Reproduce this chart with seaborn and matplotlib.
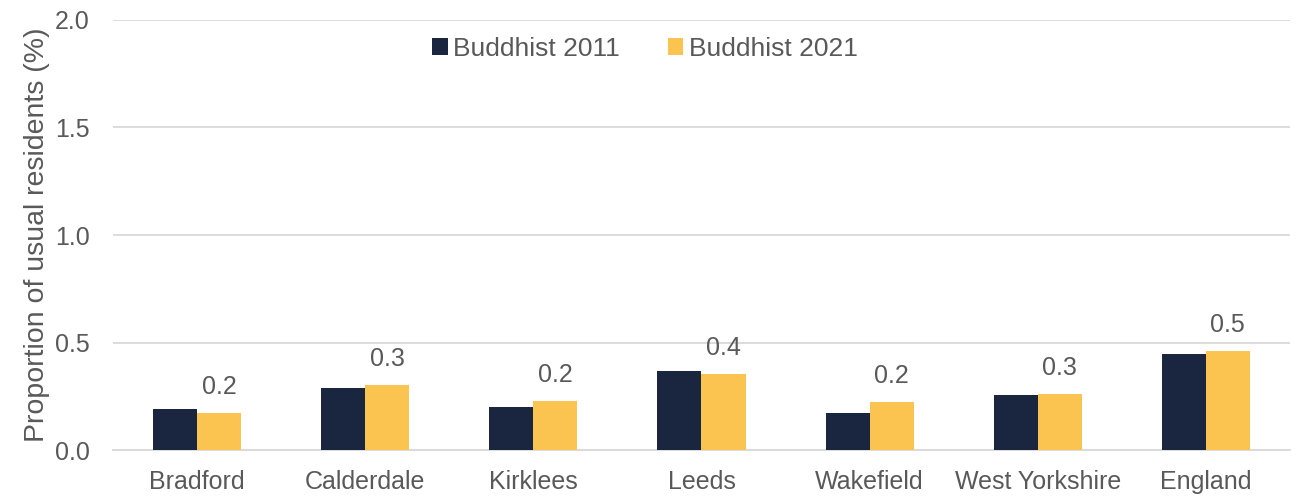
import matplotlib.pyplot as plt
import pandas as pd
import seaborn as sns

areas = ['Bradford', 'Calderdale', 'Kirklees', 'Leeds', 'Wakefield',
         'West Yorkshire', 'England']
buddhist_2011 = [0.19, 0.29, 0.20, 0.368, 0.173, 0.257, 0.449]
buddhist_2021 = [0.174, 0.304, 0.229, 0.355, 0.223, 0.262, 0.463]
series = ['Buddhist 2011', 'Buddhist 2021']
colours = ['#1a2640', '#fbc34f']

df = pd.DataFrame({'area': areas * 2,
                   'value': buddhist_2011 + buddhist_2021,
                   'series': [series[0]] * len(areas) + [series[1]] * len(areas)})

sns.set_style('white')
plt.rcParams['font.family'] = ['Liberation Sans', 'DejaVu Sans']
text_col = '#595959'

fig, ax = plt.subplots(figsize=(12.99, 4.96), dpi=100)
fig.subplots_adjust(left=0.087, right=0.993, bottom=0.092, top=0.96)

sns.barplot(data=df, x='area', y='value', hue='series', palette=colours,
            width=0.524, saturation=1, linewidth=0, ax=ax, zorder=3)

# labels only on the 2021 bars
ax.bar_label(ax.containers[1], fmt='%.1f', padding=10, fontsize=18, color=text_col)

ax.set_ylim(0, 2.0)
ax.set_yticks([0, 0.5, 1.0, 1.5, 2.0])
ax.set_yticklabels(['0.0', '0.5', '1.0', '1.5', '2.0'])
ax.yaxis.grid(True, color='#d9d9d9', linewidth=1.3, zorder=0)
ax.set_axisbelow(True)
for s in ['top', 'right', 'left']:
    ax.spines[s].set_visible(False)
ax.spines['bottom'].set_color('#d9d9d9')
ax.spines['bottom'].set_linewidth(1.3)
ax.tick_params(axis='both', labelsize=18, colors=text_col, length=0)
ax.tick_params(axis='y', pad=17)
ax.tick_params(axis='x', pad=14)
ax.set_xlabel('')
ax.set_ylabel('Proportion of usual residents (%)', fontsize=20.5, color=text_col,
              labelpad=3)

leg = ax.legend(loc='upper center', bbox_to_anchor=(0.452, 1.015), ncol=2,
                frameon=False, fontsize=19, handlelength=0.6, handleheight=0.6,
                handletextpad=0.2, columnspacing=1.8)
for t in leg.get_texts():
    t.set_color(text_col)

plt.savefig('out.png', dpi=100)
